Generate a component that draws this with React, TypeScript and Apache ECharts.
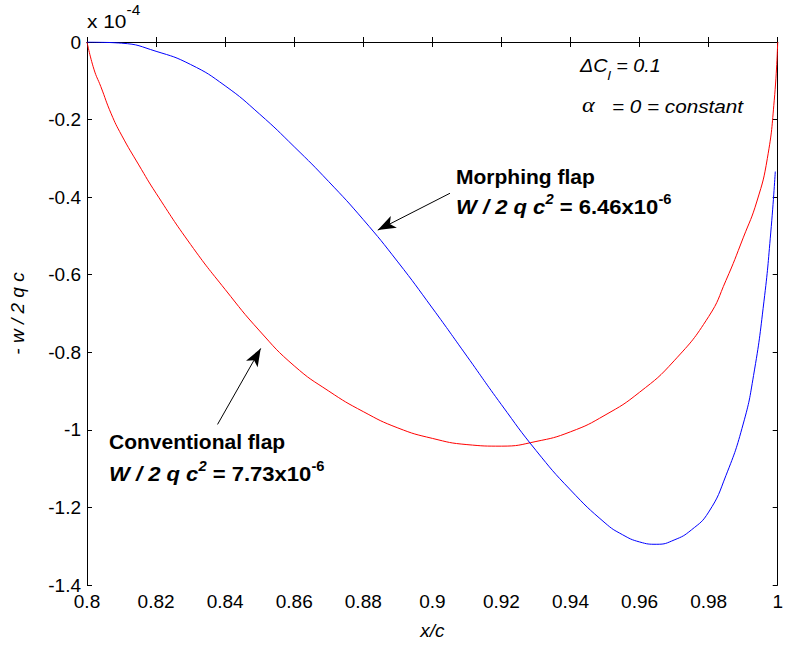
import React, { useEffect, useRef } from "react";
import * as echarts from "echarts";

// x/c positions and deflection (-w / 2qc, in units of 1e-4)
const conventionalX = [0.8, 0.802, 0.804, 0.807, 0.81, 0.815, 0.82, 0.83, 0.84, 0.85, 0.86, 0.87, 0.88, 0.89, 0.9, 0.91, 0.92, 0.93, 0.94, 0.95, 0.96, 0.97, 0.98, 0.985, 0.99, 0.994, 0.997, 0.999, 1];
const conventionalY = [0, -0.07, -0.115, -0.185, -0.24, -0.317, -0.39, -0.522, -0.638, -0.745, -0.835, -0.9, -0.953, -0.995, -1.022, -1.038, -1.042, -1.03, -1.005, -0.962, -0.903, -0.822, -0.708, -0.615, -0.505, -0.41, -0.3, -0.15, 0];

const morphingX = [0.8, 0.81, 0.82, 0.83, 0.84, 0.85, 0.86, 0.87, 0.88, 0.89, 0.9, 0.91, 0.92, 0.93, 0.94, 0.95, 0.955, 0.96, 0.965, 0.97, 0.975, 0.98, 0.985, 0.99, 0.993, 0.996, 0.998, 0.9993];
const morphingY = [0, -0.003, -0.024, -0.058, -0.113, -0.186, -0.27, -0.36, -0.458, -0.567, -0.686, -0.81, -0.935, -1.053, -1.155, -1.24, -1.27, -1.289, -1.295, -1.284, -1.258, -1.212, -1.118, -0.985, -0.86, -0.67, -0.49, -0.334];

// annotation arrows: [fromX, fromY, toX, toY] in data units
const morphingArrow = [0.9051, -0.39, 0.8842, -0.485];
const conventionalArrow = [0.8378, -0.986, 0.8503, -0.79];

const FONT = "'Liberation Sans', Arial, sans-serif";

const zip = (xs: number[], ys: number[]) => xs.map((x, i) => [x, ys[i]]);

const arrowLine = (a: number[]) => [
  { coord: [a[0], a[1]], symbol: "none" },
  { coord: [a[2], a[3]], symbol: "arrow", symbolSize: [10, 18] },
];

export default function App() {
  const ref = useRef<HTMLDivElement>(null);

  useEffect(() => {
    if (!ref.current) return;
    const chart = echarts.init(ref.current, undefined, { renderer: "svg" });

    const axisCommon = {
      type: "value" as const,
      axisLine: { lineStyle: { color: "#000", width: 1 } },
      axisTick: { inside: true, length: 5, lineStyle: { color: "#000" } },
      splitLine: { show: false },
    };

    const LH = 26;
    const bold = { fontFamily: FONT, fontSize: 21, fontWeight: "bold", fill: "#000", verticalAlign: "bottom", lineHeight: LH };
    const boldItalic = { ...bold, fontStyle: "italic" };
    const supB = { fontFamily: FONT, fontSize: 14, fontWeight: "bold", fill: "#000", verticalAlign: "top", lineHeight: LH };
    const supBI = { ...supB, fontStyle: "italic" };
    const ital = { fontFamily: FONT, fontSize: 18, fontStyle: "italic", fill: "#000" };

    const weightLine = (value: string) => ({
      text: `{bi|W / 2 q c}{sbi|2}{b| = ${value}x10}{sb|-6}`,
      rich: { bi: boldItalic, sbi: supBI, b: bold, sb: supB },
    });

    chart.setOption({
      animation: false,
      backgroundColor: "#fff",
      grid: { left: 87, right: 6, top: 42, bottom: 60 },
      xAxis: [
        {
          ...axisCommon,
          min: 0.8,
          max: 1,
          interval: 0.02,
          axisLabel: { color: "#000", fontFamily: FONT, fontSize: 19, margin: 7 },
          name: "x/c",
          nameLocation: "middle",
          nameGap: 36,
          nameTextStyle: { color: "#000", fontFamily: FONT, fontSize: 19, fontStyle: "italic" },
        },
        {
          ...axisCommon,
          position: "top",
          min: 0.8,
          max: 1,
          interval: 0.02,
          axisLabel: { show: false },
        },
      ],
      yAxis: [
        {
          ...axisCommon,
          min: -1.4,
          max: 0,
          interval: 0.2,
          axisLabel: { color: "#000", fontFamily: FONT, fontSize: 19, margin: 6 },
          name: "- w / 2 q c",
          nameLocation: "middle",
          nameGap: 60,
          nameRotate: 90,
          nameTextStyle: { color: "#000", fontFamily: FONT, fontSize: 19, fontStyle: "italic" },
        },
        {
          ...axisCommon,
          position: "right",
          min: -1.4,
          max: 0,
          interval: 0.2,
          axisLabel: { show: false },
        },
      ],
      series: [
        {
          name: "Conventional flap",
          type: "line",
          data: zip(conventionalX, conventionalY),
          smooth: true,
          showSymbol: false,
          lineStyle: { color: "#ff0000", width: 1 },
          markLine: {
            silent: true,
            label: { show: false },
            lineStyle: { color: "#000", width: 1, type: "solid" },
            itemStyle: { color: "#000" },
            data: [arrowLine(conventionalArrow)],
          },
        },
        {
          name: "Morphing flap",
          type: "line",
          data: zip(morphingX, morphingY),
          smooth: true,
          showSymbol: false,
          lineStyle: { color: "#0000ff", width: 1 },
          markLine: {
            silent: true,
            label: { show: false },
            lineStyle: { color: "#000", width: 1, type: "solid" },
            itemStyle: { color: "#000" },
            data: [arrowLine(morphingArrow)],
          },
        },
      ],
      graphic: [
        {
          type: "text",
          x: 87,
          y: 3,
          scaleX: 1.1,
          style: {
            text: "{a|x 10}{s|-4}",
            rich: {
              a: { fontFamily: FONT, fontSize: 19, fill: "#000", verticalAlign: "bottom", lineHeight: 28 },
              s: { fontFamily: FONT, fontSize: 14, fill: "#000", verticalAlign: "top", lineHeight: 28 },
            },
          },
        },
        {
          type: "text",
          x: 580,
          y: 57,
          scaleX: 1.1,
          style: {
            text: "{i|ΔC}{sub|l}{i| = 0.1}",
            rich: {
              i: { ...ital, verticalAlign: "top", lineHeight: 25 },
              sub: { ...ital, fontSize: 13, verticalAlign: "bottom", lineHeight: 25 },
            },
          },
        },
        {
          type: "text",
          x: 582,
          y: 93,
          scaleX: 1.15,
          style: {
            text: "{a|α}{i|   = 0 = constant}",
            rich: {
              a: { fontFamily: "'Liberation Serif', 'DejaVu Serif', serif", fontStyle: "italic", fontSize: 21, fill: "#000", verticalAlign: "bottom", lineHeight: 23 },
              i: { ...ital, verticalAlign: "bottom", lineHeight: 23 },
            },
          },
        },
        {
          type: "text",
          x: 456,
          y: 166,
          style: { text: "Morphing flap", fontFamily: FONT, fontSize: 21, fontWeight: "bold", fill: "#000" },
        },
        {
          type: "text",
          x: 456,
          y: 192,
          scaleX: 1.05,
          style: weightLine("6.46"),
        },
        {
          type: "text",
          x: 109,
          y: 431,
          style: { text: "Conventional flap", fontFamily: FONT, fontSize: 21, fontWeight: "bold", fill: "#000" },
        },
        {
          type: "text",
          x: 109,
          y: 459,
          scaleX: 1.05,
          style: weightLine("7.73"),
        },
      ],
    });

    return () => chart.dispose();
  }, []);

  return <div ref={ref} style={{ width: 786, height: 645, position: "absolute", left: 0, top: 0 }} />;
}
